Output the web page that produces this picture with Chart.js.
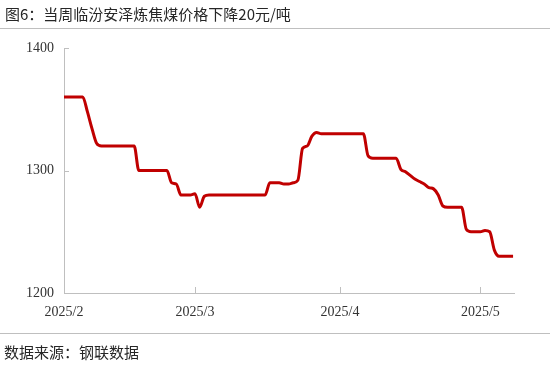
<!DOCTYPE html>
<html>
<head>
<meta charset="utf-8">
<script src="https://cdn.jsdelivr.net/npm/chart.js@4/dist/chart.umd.min.js"></script>
<style>
  body { margin: 0; background: #fff; }
  #wrap { position: relative; width: 550px; height: 367px; overflow: hidden; }
  #title { position: absolute; left: 5px; top: 4px; font: 15px/20px "Noto Sans CJK SC"; color: #262626; }
  #topLine { position: absolute; left: 0; top: 28px; width: 550px; height: 1px; background: #bfbfbf; }
  #bottomLine { position: absolute; left: 0; top: 333px; width: 550px; height: 1px; background: #bfbfbf; }
  #source { position: absolute; left: 4px; top: 342px; font: 15px/20px "Noto Sans CJK SC"; color: #262626; }
  canvas { position: absolute; left: 0; top: 0; }
</style>
</head>
<body>
<div id="wrap">
  <canvas id="chart" width="550" height="367"></canvas>
  <div id="title">图6：当周临汾安泽炼焦煤价格下降20元/吨</div>
  <div id="topLine"></div>
  <div id="bottomLine"></div>
  <div id="source">数据来源：钢联数据</div>
</div>
<script>
// daily price, starting 2025/2/1 (yuan/ton)
const prices = [
  1360, 1360, 1360, 1360, 1360, 1348, 1334, 1322,
  1320, 1320, 1320, 1320, 1320, 1320, 1320, 1320,
  1300, 1300, 1300, 1300, 1300, 1300, 1300,
  1290, 1289, 1280, 1280, 1280, 1281, 1270, 1279,
  1280, 1280, 1280, 1280, 1280, 1280, 1280, 1280, 1280, 1280, 1280, 1280, 1280,
  1290, 1290, 1290, 1289, 1289, 1290, 1292, 1318, 1320, 1328, 1331,
  1330, 1330, 1330, 1330, 1330, 1330, 1330, 1330, 1330, 1330,
  1312, 1310, 1310, 1310, 1310, 1310, 1310,
  1301, 1299, 1296, 1293, 1291, 1289, 1286, 1285, 1280, 1271,
  1270, 1270, 1270, 1270, 1252, 1250, 1250, 1250, 1251, 1250,
  1235, 1230, 1230, 1230, 1230
];
const tickDays = [0, 28, 59, 89];
const tickLabels = ["2025/2", "2025/3", "2025/4", "2025/5"];
const yTicks = [1200, 1300, 1400];

const axisGray = "#bfbfbf";

// small tick marks pointing into the plot
const innerTicks = {
  id: "innerTicks",
  afterDraw(chart) {
    const { ctx, chartArea, scales } = chart;
    ctx.save();
    ctx.strokeStyle = axisGray;
    ctx.lineWidth = 1;
    ctx.beginPath();
    yTicks.forEach((v) => {
      const y = Math.round(scales.y.getPixelForValue(v)) + 0.5;
      ctx.moveTo(chartArea.left, y);
      ctx.lineTo(chartArea.left + 5, y);
    });
    tickDays.slice(1).forEach((d) => {
      const x = Math.round(scales.x.getPixelForValue(d)) + 0.5;
      ctx.moveTo(x, chartArea.bottom);
      ctx.lineTo(x, chartArea.bottom - 6);
    });
    ctx.stroke();
    ctx.restore();
  },
};

new Chart(document.getElementById("chart"), {
  type: "line",
  data: {
    datasets: [
      {
        data: prices.map((v, i) => ({ x: i, y: v })),
        borderColor: "#c00000",
        borderWidth: 3,
        pointRadius: 0,
        cubicInterpolationMode: "monotone",
      },
    ],
  },
  options: {
    responsive: false,
    animation: false,
    layout: { padding: { top: 48, right: 36, left: 0, bottom: 0 } },
    plugins: { legend: { display: false }, tooltip: { enabled: false } },
    scales: {
      x: {
        type: "linear",
        min: 0,
        max: 96.2,
        afterBuildTicks: (s) => { s.ticks = tickDays.map((v) => ({ value: v })); },
        afterFit: (s) => { s.height = 74; },
        grid: { display: false, drawTicks: false },
        border: { color: axisGray, width: 1 },
        ticks: {
          padding: 11,
          maxRotation: 0,
          autoSkip: false,
          color: "#333",
          font: { family: "Liberation Serif", size: 14 },
          callback: (v) => tickLabels[tickDays.indexOf(v)],
        },
      },
      y: {
        min: 1200,
        max: 1400,
        afterBuildTicks: (s) => { s.ticks = yTicks.map((v) => ({ value: v })); },
        afterFit: (s) => { s.width = 64; },
        grid: { display: false, drawTicks: false },
        border: { color: axisGray, width: 1 },
        ticks: {
          padding: 10,
          color: "#333",
          font: { family: "Liberation Serif", size: 14 },
          callback: (v) => String(v),
        },
      },
    },
  },
  plugins: [innerTicks],
});
</script>
</body>
</html>
